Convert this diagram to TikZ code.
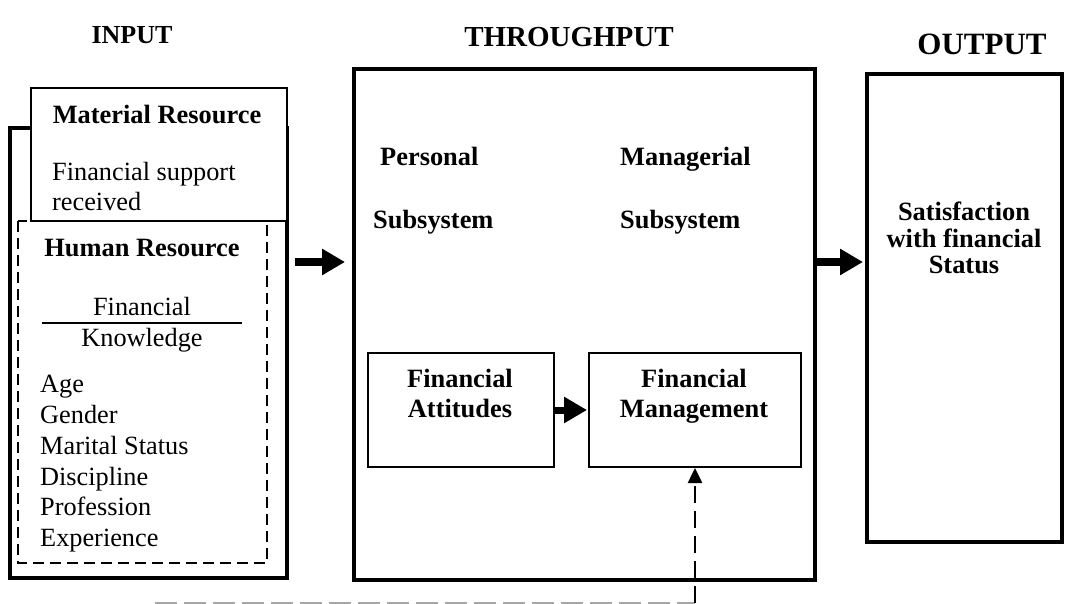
\documentclass[tikz,border=0pt]{standalone}
\usepackage{fontspec}
\setmainfont{Liberation Serif}
\usetikzlibrary{arrows.meta}
\begin{document}
\begin{tikzpicture}[x=1pt,y=-1pt,
  txt/.style={inner sep=0pt,font=\fontsize{26.3}{30}\selectfont},
  btxt/.style={inner sep=0pt,font=\fontsize{26.4}{30}\selectfont\bfseries},
  thickbox/.style={draw,line width=4pt},
  thinbox/.style={draw,line width=2pt},
  bigarrow/.style={line width=8pt,-{Triangle[length=23pt,width=25pt]}},
]
\useasboundingbox[fill=white] (0,0) rectangle (1066,604);

% boxes
\draw[thickbox] (10,128) rectangle (287,578);
\node[thinbox,fill=white,anchor=north west,minimum width=256pt,minimum height=133pt,inner sep=0pt] (mat) at (30,87) {};
\draw[line width=2pt,dash pattern=on 11pt off 6pt] (18,221) rectangle (267,563);
\coordinate (inE) at (287,262);

\node[thickbox,anchor=north west,minimum width=461pt,minimum height=511pt,inner sep=0pt] (thr) at (352,67) {};
\node[thickbox,anchor=north west,minimum width=195pt,minimum height=468pt,inner sep=0pt] (out) at (865,72) {};

\node[thinbox,anchor=north west,minimum width=186pt,minimum height=114pt,inner sep=0pt] (fa) at (367,352) {};
\node[thinbox,anchor=north west,minimum width=212pt,minimum height=114pt,inner sep=0pt] (fm) at (588,352) {};

% titles
\node[inner sep=0pt,font=\fontsize{26}{30}\selectfont\bfseries,anchor=base] (tin) at (132,44) {INPUT};
\node[inner sep=0pt,font=\fontsize{29}{33}\selectfont\bfseries,anchor=base] (tthr) at (569,47) {THROUGHPUT};
\node[inner sep=0pt,font=\fontsize{31}{35}\selectfont\bfseries,anchor=base] (tout) at (982,55) {OUTPUT};

% input texts
\node[btxt,anchor=base] (matt) at (157,124) {Material Resource};
\node[txt,anchor=base west] (fs1) at (52,181) {Financial support};
\node[txt,anchor=base west] (fs2) at (52,211) {received};
\node[btxt,anchor=base] (hum) at (142,257) {Human Resource};
\node[txt,anchor=base] (fk1) at (142,316) {Financial};
\node[txt,anchor=base] (fk2) at (142,346) {Knowledge};
\coordinate (fl1) at (42,323);
\coordinate (fl2) at (242,323);
\draw[line width=2pt] (fl1) -- (fl2);
\node[txt,anchor=base west] (l1) at (40,392) {Age};
\node[txt,anchor=base west] (l2) at (40,423) {Gender};
\node[txt,anchor=base west] (l3) at (40,454) {Marital Status};
\node[txt,anchor=base west] (l4) at (40,485) {Discipline};
\node[txt,anchor=base west] (l5) at (40,515) {Profession};
\node[txt,anchor=base west] (l6) at (40,546) {Experience};

% throughput texts
\node[btxt,anchor=base west] (p1) at (380,166) {Personal};
\node[btxt,anchor=base west] (p2) at (373,229) {Subsystem};
\node[btxt,anchor=base west] (m1) at (620,166) {Managerial};
\node[btxt,anchor=base west] (m2) at (620,229) {Subsystem};
\node[btxt,anchor=base] (fa1) at (460,387) {Financial};
\node[btxt,anchor=base] (fa2) at (460,417) {Attitudes};
\node[btxt,anchor=base] (fm1) at (694,387) {Financial};
\node[btxt,anchor=base] (fm2) at (694,417) {Management};

% output texts
\node[btxt,anchor=base] (s1) at (964,221) {Satisfaction};
\node[btxt,anchor=base] (s2) at (964,248) {with financial};
\node[btxt,anchor=base] (s3) at (964,273) {Status};

% arrows
\draw[bigarrow,shorten <=8pt,shorten >=7pt] (inE) -- (thr.west |- inE);
\draw[bigarrow,shorten >=2pt] (thr.east |- inE) -- (out.west |- inE);
\draw[line width=7pt,-{Triangle[length=23pt,width=25pt]},shorten >=1pt] (fa.east) -- (fm.west);

\coordinate (hs) at (155,603);
\coordinate (hc) at (695,603);
\draw[gray!70,line width=3pt,dash pattern=on 22pt off 7pt] (hs) -- (hc);
\draw[line width=2.5pt,dash pattern=on 17pt off 8pt,-{Triangle[length=15pt,width=14pt]}] (hc) -- (fm.south);
\end{tikzpicture}
\end{document}
